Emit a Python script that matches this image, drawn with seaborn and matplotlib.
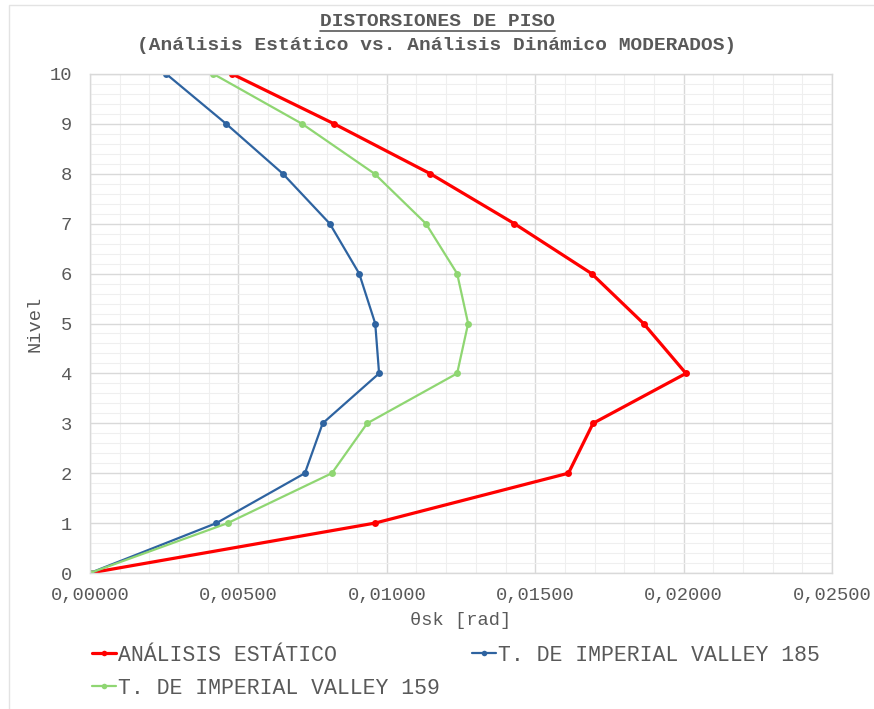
import numpy as np
import pandas as pd
import matplotlib
matplotlib.use('Agg')
import matplotlib.pyplot as plt
import seaborn as sns
from matplotlib.ticker import MultipleLocator, FuncFormatter
from matplotlib.lines import Line2D
from matplotlib.patches import Rectangle

niveles = [0, 1, 2, 3, 4, 5, 6, 7, 8, 9, 10]
estatico = [0.0, 0.00960, 0.01612, 0.01695, 0.02008, 0.01865, 0.01690, 0.01430, 0.01147, 0.00823, 0.00479]
iv185 = [0.0, 0.00426, 0.00724, 0.00784, 0.00974, 0.00961, 0.00907, 0.00808, 0.00650, 0.00459, 0.00257]
iv159 = [0.0, 0.00464, 0.00815, 0.00934, 0.01237, 0.01274, 0.01237, 0.01132, 0.00959, 0.00715, 0.00416]

names = ['ANÁLISIS ESTÁTICO', 'T. DE IMPERIAL VALLEY 185', 'T. DE IMPERIAL VALLEY 159']
colors = ['#FF0000', '#2E63A0', '#8FD672']
widths = [2.3, 1.6, 1.6]

sns.set_theme(style='white')
plt.rcParams['font.family'] = ['Liberation Mono', 'DejaVu Sans Mono']
gris = '#595959'

fig = plt.figure(figsize=(8.74, 7.09), dpi=100)
ax = fig.add_axes([90 / 874, 1 - 573 / 709, 742 / 874, 499 / 709])

series = [estatico, iv185, iv159]
for vals, name, c, w in zip(series, names, colors, widths):
    d = pd.DataFrame({'theta': vals, 'nivel': niveles})
    sns.lineplot(data=d, x='theta', y='nivel', sort=False, estimator=None,
                 color=c, linewidth=w, marker='o', markersize=5,
                 markeredgewidth=0, ax=ax, label=name, legend=False)

ax.set_xlim(0, 0.025)
ax.set_ylim(0, 10)
ax.xaxis.set_major_locator(MultipleLocator(0.005))
ax.xaxis.set_minor_locator(MultipleLocator(0.001))
ax.yaxis.set_major_locator(MultipleLocator(1))
ax.yaxis.set_minor_locator(MultipleLocator(0.2))
ax.xaxis.set_major_formatter(FuncFormatter(lambda v, p: f'{v:.5f}'.replace('.', ',')))
ax.grid(which='major', color='#D9D9D9', linewidth=1.0)
ax.grid(which='minor', color='#EFEFEF', linewidth=0.8)
ax.set_axisbelow(True)
for s in ax.spines.values():
    s.set_color('#D9D9D9')
    s.set_linewidth(1.0)
ax.tick_params(which='both', length=0, colors=gris, labelsize=13.5)
ax.tick_params(axis='y', pad=13)
ax.tick_params(axis='x', pad=10)
ax.set_xlabel('θsk [rad]', fontsize=13.5, color=gris, labelpad=6)
ax.set_ylabel('Nivel', fontsize=13.5, color=gris, labelpad=4)

# leyenda: rojo y verde en la primera columna, azul en la segunda
h = {n: Line2D([], [], color=c, lw=w, marker='o', markersize=4, markeredgewidth=0)
     for n, c, w in zip(names, colors, widths)}
order = [names[0], names[2], names[1]]
leg = fig.legend([h[n] for n in order], order, loc='upper left',
                 bbox_to_anchor=(92 / 874, 1 - 645 / 709), ncol=2, frameon=False,
                 fontsize=15.5, handlelength=1.1, handletextpad=0.1,
                 columnspacing=1.5, labelspacing=0.55, borderaxespad=0, borderpad=0)
for t in leg.get_texts():
    t.set_color(gris)

t1 = fig.text(0.5, 1 - 22 / 709, 'DISTORSIONES DE PISO', ha='center', va='center',
              fontsize=14, fontweight='bold', color=gris)
fig.text(0.5, 1 - 46 / 709, '(Análisis Estático vs. Análisis Dinámico MODERADOS)',
         ha='center', va='center', fontsize=14, fontweight='bold', color=gris)

fig.canvas.draw()
bb = t1.get_window_extent()
fig.add_artist(Line2D([bb.x0 / 874, bb.x1 / 874], [(709 - 31) / 709] * 2,
                      color=gris, lw=1.2, transform=fig.transFigure))
fig.add_artist(Rectangle((9 / 874, -0.1), 2, (709 - 5) / 709 + 0.1,
                         transform=fig.transFigure, fill=False,
                         edgecolor='#E3E3E3', lw=1))

fig.savefig('out.png', dpi=100)
